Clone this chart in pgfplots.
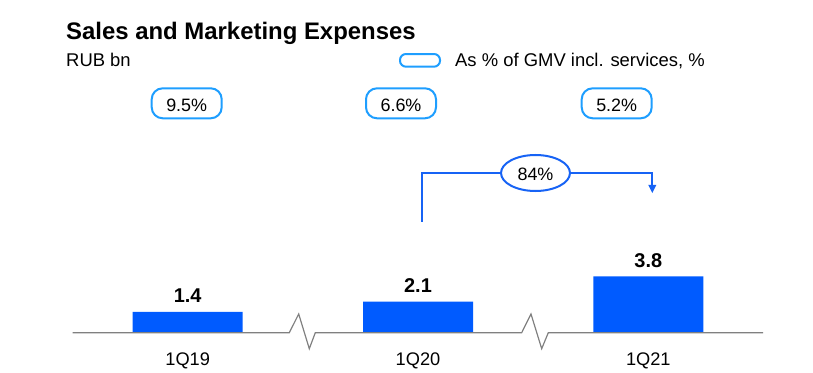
\documentclass[border=0pt]{standalone}
\usepackage{pgfplots}
\pgfplotsset{compat=1.18}
\usetikzlibrary{arrows.meta}
\usepackage{fontspec}
\setmainfont{Liberation Sans}
\definecolor{ozblue}{HTML}{005BFF}
\definecolor{pillblue}{HTML}{1E9EFF}
\definecolor{arrowblue}{HTML}{1763F5}
\definecolor{basegray}{HTML}{808080}

\begin{document}
\begin{tikzpicture}
\begin{axis}[
  at={(0,0)}, anchor=north west,
  scale only axis, width=813bp, height=373bp,
  xmin=-0.815, xmax=2.715, ymin=-2.723, ymax=22.48,
  axis line style={draw=none}, tick style={draw=none},
  ytick=\empty, xtick={0,1,2}, xticklabels={1Q19,1Q20,1Q21},
  xticklabel style={font=\fontsize{18.3}{20}\selectfont, anchor=base, yshift=11.6bp},
  ybar, bar width=110bp,
  /pgf/number format/assume math mode=true,
  nodes near coords,
  nodes near coords style={font=\fontsize{20}{22}\selectfont\bfseries, anchor=center, yshift=16bp,
    /pgf/number format/.cd, fixed, fixed zerofill, precision=1},
  clip=false,
]
\addplot[fill=ozblue, draw=none] coordinates {(0,1.4) (1,2.1) (2,3.8)};
\end{axis}
\begin{scope}[x=1bp,y=-1bp]
  \draw[basegray, line width=1.2bp, line join=miter] (72.7,332.7) -- (289.3,332.7) -- (298.7,314) -- (309.3,348.7) -- (315.3,332.7) -- (521.7,332.7) -- (531,314) -- (541.7,348.7) -- (548.3,332.7) -- (763,332.7);
  \node[anchor=base west, inner sep=0, font=\fontsize{24}{28}\selectfont\bfseries] at (66,39) {Sales and Marketing Expenses};
  \node[anchor=base west, inner sep=0, font=\fontsize{18.5}{22}\selectfont] at (66,66) {RUB bn};
  \draw[pillblue, line width=2bp, rounded corners=6bp] (400,54) rectangle (440,66.7);
  \node[anchor=base west, inner sep=0, font=\fontsize{18.5}{22}\selectfont] at (455,66) {As \% of GMV incl. services, \%};
  \foreach \cx/\t in {186.7/9.5\%, 401/6.6\%, 616.7/5.2\%} {
    \draw[pillblue, line width=2bp, rounded corners=11bp] (\cx-35,88.3) rectangle (\cx+35,118.3);
    \node[anchor=base, inner sep=0, font=\fontsize{18}{20}\selectfont] at (\cx,111) {\t};
  }
  \draw[arrowblue, line width=2bp, -{Triangle[length=8.5bp,width=7.5bp]}] (421.7,221.7) -- (421.7,173.3) -- (652.3,173.3) -- (652.3,193.3);
  \draw[arrowblue, line width=2bp, fill=white] (535.5,173) ellipse [x radius=34.5bp, y radius=18bp];
  \node[anchor=base, inner sep=0, font=\fontsize{18}{20}\selectfont] at (535.5,180.7) {84\%};
\end{scope}
\pgfresetboundingbox
\useasboundingbox (0,0) rectangle (813bp,-373bp);
\end{tikzpicture}
\end{document}
